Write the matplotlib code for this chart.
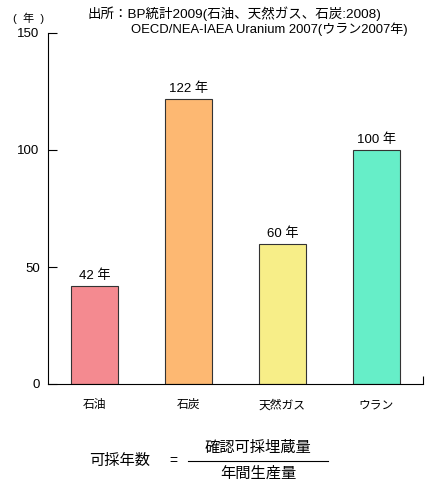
import matplotlib.pyplot as plt
import numpy as np

plt.rcParams['font.family'] = ['Liberation Sans', 'Noto Sans CJK JP']

resources = ['石油', '石炭', '天然ガス', 'ウラン']
years = [42, 122, 60, 100]
colors = ['#F48A90', '#FDB872', '#F7EE88', '#66EEC8']
yticks = [0, 50, 100, 150]

fig = plt.figure(figsize=(4.31, 4.82), dpi=100)
ax = fig.add_axes([48 / 431, 98 / 482, 375 / 431, 351 / 482])

x = np.arange(len(resources))
ax.bar(x, years, width=0.5, color=colors, edgecolor='#333333', linewidth=0.8, zorder=2)
for xi, v in zip(x, years):
    ax.text(xi, v + 1.5, f'{v} 年', ha='center', va='bottom', fontsize=9.5)

ax.set_xlim(-0.5, 3.5)
ax.set_ylim(0, 150)
ax.set_yticks(yticks)
ax.set_xticks(x)
ax.set_xticklabels(resources, fontsize=8.5)
ax.set_xticks([3.5], minor=True)
ax.tick_params(axis='x', which='major', length=0, pad=11)
ax.tick_params(axis='x', which='minor', direction='in', length=6, width=0.8)
ax.tick_params(axis='y', direction='in', length=6.5, width=0.8, labelsize=9.5, pad=6)
for s in ['top', 'right']:
    ax.spines[s].set_visible(False)
for s in ['left', 'bottom']:
    ax.spines[s].set_linewidth(0.8)

fig.text(13 / 431, 1 - 18 / 482, '(  年  )', fontsize=8, va='center')
fig.text(88 / 431, 1 - 14 / 482, '出所：BP統計2009(石油、天然ガス、石炭:2008)', fontsize=9.7, va='center')
fig.text(131 / 431, 1 - 29 / 482, 'OECD/NEA-IAEA Uranium 2007(ウラン2007年)', fontsize=9.4, va='center')

# 可採年数の式
fig.text(120 / 431, 1 - 461 / 482, '可採年数', fontsize=11, ha='center', va='center')
fig.text(173 / 431, 1 - 461 / 482, '=', fontsize=10, ha='center', va='center')
fig.text(258 / 431, 1 - 448 / 482, '確認可採埋蔵量', fontsize=11, ha='center', va='center')
fig.text(258 / 431, 1 - 474 / 482, '年間生産量', fontsize=11, ha='center', va='center')
fig.add_artist(plt.Line2D([188 / 431, 328 / 431], [1 - 461 / 482, 1 - 461 / 482],
                          color='black', linewidth=0.8))

fig.savefig('out.png', dpi=100)
